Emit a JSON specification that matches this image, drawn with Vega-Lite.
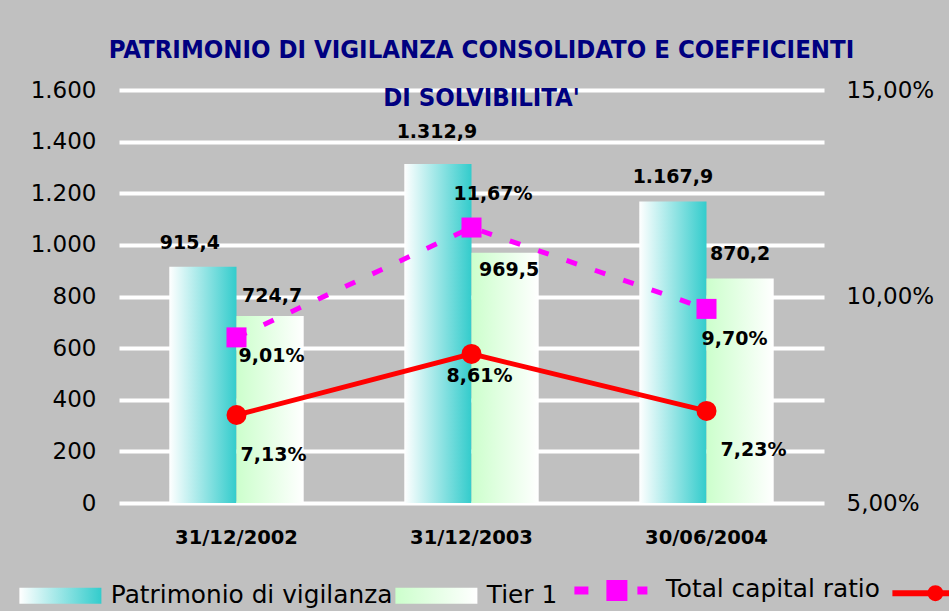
{
  "$schema": "https://vega.github.io/schema/vega-lite/v6.json",
  "width": 705,
  "height": 413,
  "autosize": {"type": "none"},
  "padding": {"left": 119, "top": 90, "right": 125, "bottom": 108},
  "background": "#C0C0C0",
  "config": {
    "view": {"stroke": null},
    "locale": {"number": {"decimal": ",", "thousands": ".", "grouping": [3], "currency": ["€", ""]}},
    "text": {"font": "DejaVu Sans", "fontWeight": "bold", "fontSize": 19, "color": "#000000", "align": "center", "baseline": "middle"},
    "axis": {"labelFont": "DejaVu Sans", "labelColor": "#000000"}
  },
  "title": {
    "text": ["PATRIMONIO DI VIGILANZA CONSOLIDATO E COEFFICIENTI", "DI SOLVIBILITA'"],
    "font": "DejaVu Sans Condensed",
    "fontWeight": "bold",
    "fontSize": 25.5,
    "color": "#000080",
    "lineHeight": 48,
    "baseline": "alphabetic",
    "anchor": "middle",
    "frame": "group",
    "offset": -52,
    "dx": 10
  },
  "data": {
    "values": [
      {"data": "31/12/2002", "serie": "Patrimonio di vigilanza", "valore": 915.4},
      {"data": "31/12/2003", "serie": "Patrimonio di vigilanza", "valore": 1312.9},
      {"data": "30/06/2004", "serie": "Patrimonio di vigilanza", "valore": 1167.9},
      {"data": "31/12/2002", "serie": "Tier 1", "valore": 724.7},
      {"data": "31/12/2003", "serie": "Tier 1", "valore": 969.5},
      {"data": "30/06/2004", "serie": "Tier 1", "valore": 870.2},
      {"data": "31/12/2002", "serie": "Total capital ratio", "valore": 0.0901},
      {"data": "31/12/2003", "serie": "Total capital ratio", "valore": 0.1167},
      {"data": "30/06/2004", "serie": "Total capital ratio", "valore": 0.0970},
      {"data": "31/12/2002", "serie": "Tier 1 ratio", "valore": 0.0713},
      {"data": "31/12/2003", "serie": "Tier 1 ratio", "valore": 0.0861},
      {"data": "30/06/2004", "serie": "Tier 1 ratio", "valore": 0.0723}
    ]
  },
  "layer": [
    {
      "encoding": {
        "x": {
          "field": "data", "type": "nominal",
          "sort": ["31/12/2002", "31/12/2003", "30/06/2004"],
          "scale": {"type": "band", "paddingInner": 0.428, "paddingOuter": 0.214},
          "axis": {"title": null, "domain": false, "ticks": false, "labelAngle": 0, "labelPadding": 25, "labelFontSize": 19.5, "labelFontWeight": "bold", "grid": false}
        },
        "xOffset": {
          "field": "serie", "type": "nominal",
          "sort": ["Patrimonio di vigilanza", "Tier 1"],
          "scale": {"domain": ["Patrimonio di vigilanza", "Tier 1"], "paddingInner": 0, "paddingOuter": 0}
        },
        "y": {
          "field": "valore", "type": "quantitative",
          "scale": {"domain": [0, 1600]},
          "axis": {
            "title": null, "orient": "left", "values": [0, 200, 400, 600, 800, 1000, 1200, 1400, 1600],
            "format": ",.0f", "domain": false, "ticks": false, "labelPadding": 23, "labelFontSize": 23,
            "grid": true, "gridColor": "#FFFFFF", "gridWidth": 4, "gridOpacity": 1
          }
        }
      },
      "layer": [
        {
          "transform": [{"filter": "datum.serie === 'Patrimonio di vigilanza'"}],
          "mark": {"type": "bar", "color": {"gradient": "linear", "x1": 0, "y1": 0, "x2": 1, "y2": 0, "stops": [{"offset": 0, "color": "#FFFFFF"}, {"offset": 1, "color": "#33CCCC"}]}}
        },
        {
          "transform": [{"filter": "datum.serie === 'Tier 1'"}],
          "mark": {"type": "bar", "color": {"gradient": "linear", "x1": 0, "y1": 0, "x2": 1, "y2": 0, "stops": [{"offset": 0, "color": "#CCFFCC"}, {"offset": 1, "color": "#FFFFFF"}]}}
        },
        {"transform": [{"filter": "datum.serie === 'Patrimonio di vigilanza' && datum.data === '31/12/2002'"}], "mark": {"type": "text", "dx": -13, "dy": -24}, "encoding": {"text": {"field": "valore", "type": "quantitative", "format": ",.1f"}}},
        {"transform": [{"filter": "datum.serie === 'Patrimonio di vigilanza' && datum.data === '31/12/2003'"}], "mark": {"type": "text", "dx": -1, "dy": -32}, "encoding": {"text": {"field": "valore", "type": "quantitative", "format": ",.1f"}}},
        {"transform": [{"filter": "datum.serie === 'Patrimonio di vigilanza' && datum.data === '30/06/2004'"}], "mark": {"type": "text", "dx": 0, "dy": -24.5}, "encoding": {"text": {"field": "valore", "type": "quantitative", "format": ",.1f"}}},
        {"transform": [{"filter": "datum.serie === 'Tier 1' && datum.data === '31/12/2002'"}], "mark": {"type": "text", "dx": 2, "dy": -20}, "encoding": {"text": {"field": "valore", "type": "quantitative", "format": ",.1f"}}},
        {"transform": [{"filter": "datum.serie === 'Tier 1' && datum.data === '31/12/2003'"}], "mark": {"type": "text", "dx": 4, "dy": 17}, "encoding": {"text": {"field": "valore", "type": "quantitative", "format": ",.1f"}}},
        {"transform": [{"filter": "datum.serie === 'Tier 1' && datum.data === '30/06/2004'"}], "mark": {"type": "text", "dx": 0, "dy": -24}, "encoding": {"text": {"field": "valore", "type": "quantitative", "format": ",.1f"}}}
      ]
    },
    {
      "encoding": {
        "x": {
          "field": "data", "type": "nominal",
          "sort": ["31/12/2002", "31/12/2003", "30/06/2004"],
          "scale": {"type": "band", "paddingInner": 0.428, "paddingOuter": 0.214},
          "axis": {"title": null, "domain": false, "ticks": false, "labelAngle": 0, "labelPadding": 25, "labelFontSize": 19.5, "labelFontWeight": "bold", "grid": false}
        },
        "y": {
          "field": "valore", "type": "quantitative",
          "scale": {"domain": [0.05, 0.15]},
          "axis": {
            "title": null, "orient": "right", "values": [0.05, 0.10, 0.15],
            "format": ".2%", "domain": false, "ticks": false, "labelPadding": 22, "labelFontSize": 23, "grid": false
          }
        }
      },
      "layer": [
        {
          "transform": [{"filter": "datum.serie === 'Total capital ratio'"}],
          "mark": {"type": "line", "strokeWidth": 5, "strokeDash": [11, 19]},
          "encoding": {
            "color": {
              "field": "serie", "type": "nominal",
              "scale": {
                "domain": ["Patrimonio di vigilanza", "Tier 1", "Total capital ratio", "Tier 1 ratio"],
                "range": ["#33CCCC", "#CCFFCC", "#FF00FF", "#FF0000"]
              },
              "legend": {
                "orient": "none", "legendX": -102, "legendY": 488, "direction": "horizontal", "columns": 4, "columnPadding": 0,
                "title": null, "symbolSize": 400, "labelOffset": 69, "labelFont": "DejaVu Sans", "labelFontSize": 24.8, "labelColor": "#000000", "labelLimit": 0,
                "labelExpr": "datum.value === 'Tier 1 ratio' ? '' : datum.value",
                "values": ["Patrimonio di vigilanza", "Tier 1", "Total capital ratio", "Tier 1 ratio"],
                "encode": {
                  "symbols": {
                    "update": {
                      "shape": {"signal": "datum.value === 'Total capital ratio' ? 'M-1,0H0.4M5.3,0H6.3M2.6,-0.65H3.9V0.65H2.6Z' : datum.value === 'Tier 1 ratio' ? 'M-1,0H7.6M3.8,0A0.5,0.5 0 1,1 2.8,0A0.5,0.5 0 1,1 3.8,0Z' : 'M-1,-0.8H7.2V0.8H-1Z'"},
                      "fill": {"signal": "datum.value === 'Patrimonio di vigilanza' ? {gradient: 'linear', x1: 0, y1: 0, x2: 1, y2: 0, stops: [{offset: 0, color: '#FFFFFF'}, {offset: 1, color: '#33CCCC'}]} : datum.value === 'Tier 1' ? {gradient: 'linear', x1: 0, y1: 0, x2: 1, y2: 0, stops: [{offset: 0, color: '#CCFFCC'}, {offset: 1, color: '#FFFFFF'}]} : datum.value === 'Total capital ratio' ? '#FF00FF' : '#FF0000'"},
                      "stroke": {"signal": "datum.value === 'Total capital ratio' ? '#FF00FF' : datum.value === 'Tier 1 ratio' ? '#FF0000' : 'transparent'"},
                      "strokeWidth": {"signal": "datum.value === 'Total capital ratio' ? 8 : datum.value === 'Tier 1 ratio' ? 6 : 0"},
                      "strokeDash": {"value": []},
                      "opacity": {"value": 1},
                      "fillOpacity": {"value": 1},
                      "strokeOpacity": {"value": 1}
                    }
                  }
                }
              }
            }
          }
        },
        {"transform": [{"filter": "datum.serie === 'Tier 1 ratio'"}], "mark": {"type": "line", "strokeWidth": 5, "color": "#FF0000"}},
        {"transform": [{"filter": "datum.serie === 'Total capital ratio'"}], "mark": {"type": "point", "shape": "square", "filled": true, "size": 400, "opacity": 1, "color": "#FF00FF"}},
        {"transform": [{"filter": "datum.serie === 'Tier 1 ratio'"}], "mark": {"type": "point", "shape": "circle", "filled": true, "size": 400, "opacity": 1, "color": "#FF0000"}},
        {"transform": [{"filter": "datum.serie === 'Total capital ratio' && datum.data === '31/12/2002'"}], "mark": {"type": "text", "dx": 35, "dy": 18.5}, "encoding": {"text": {"field": "valore", "type": "quantitative", "format": ".2%"}}},
        {"transform": [{"filter": "datum.serie === 'Total capital ratio' && datum.data === '31/12/2003'"}], "mark": {"type": "text", "dx": 21.5, "dy": -33.5}, "encoding": {"text": {"field": "valore", "type": "quantitative", "format": ".2%"}}},
        {"transform": [{"filter": "datum.serie === 'Total capital ratio' && datum.data === '30/06/2004'"}], "mark": {"type": "text", "dx": 28, "dy": 30}, "encoding": {"text": {"field": "valore", "type": "quantitative", "format": ".2%"}}},
        {"transform": [{"filter": "datum.serie === 'Tier 1 ratio' && datum.data === '31/12/2002'"}], "mark": {"type": "text", "dx": 37, "dy": 39.5}, "encoding": {"text": {"field": "valore", "type": "quantitative", "format": ".2%"}}},
        {"transform": [{"filter": "datum.serie === 'Tier 1 ratio' && datum.data === '31/12/2003'"}], "mark": {"type": "text", "dx": 8, "dy": 21.6}, "encoding": {"text": {"field": "valore", "type": "quantitative", "format": ".2%"}}},
        {"transform": [{"filter": "datum.serie === 'Tier 1 ratio' && datum.data === '30/06/2004'"}], "mark": {"type": "text", "dx": 47, "dy": 39.5}, "encoding": {"text": {"field": "valore", "type": "quantitative", "format": ".2%"}}}
      ]
    }
  ],
  "resolve": {"scale": {"y": "independent"}, "axis": {"y": "independent"}}
}
